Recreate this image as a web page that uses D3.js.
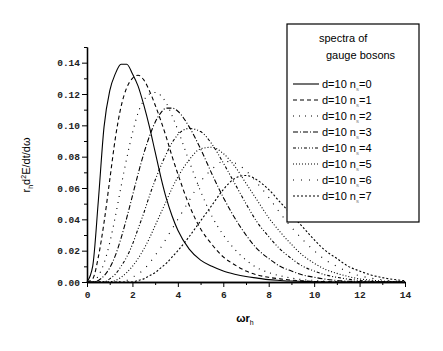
<!DOCTYPE html>
<html><head><meta charset="utf-8">
<script src="https://cdn.jsdelivr.net/npm/d3@7"></script>
<style>body{margin:0;background:#fff}</style>
</head><body>
<svg id="c" width="443" height="351"></svg>
<script>
const xs = [0,0.25,0.5,0.75,1,1.25,1.5,1.75,2,2.25,2.5,2.75,3,3.25,3.5,3.75,4,4.5,5,5.5,6,6.5,7,7.5,8,8.5,9,9.5,10,10.5,11,11.5,12,12.5,13,13.5,14];
const ns0 = [0,0.010,0.052,0.099,0.122,0.133,0.139,0.139,0.133,0.125,0.113,0.099,0.083,0.067,0.053,0.042,0.033,0.021,0.014,0.010,0.007,0.005,0.0035,0.0025,0.0015,0.001,0.0006,0.0004,0.0002,0,0,0,0,0,0,0,0];
const ns1 = [0,0.002,0.016,0.038,0.065,0.092,0.112,0.124,0.130,0.132,0.129,0.122,0.113,0.103,0.092,0.080,0.069,0.049,0.034,0.024,0.016,0.011,0.007,0.0045,0.003,0.002,0.0012,0.0007,0.0004,0.0002,0,0,0,0,0,0,0];
const ns2 = [0,0,0.004,0.012,0.025,0.042,0.061,0.079,0.095,0.108,0.116,0.120,0.121,0.119,0.114,0.106,0.097,0.077,0.058,0.042,0.030,0.021,0.014,0.009,0.006,0.004,0.0025,0.0015,0.001,0.0005,0.0002,0,0,0,0,0,0];
const ns3 = [0,0,0.001,0.004,0.009,0.017,0.028,0.041,0.055,0.069,0.082,0.093,0.102,0.108,0.111,0.111,0.109,0.099,0.085,0.069,0.054,0.041,0.030,0.021,0.015,0.010,0.007,0.0045,0.003,0.0018,0.001,0.0005,0.0002,0,0,0,0];
const ns4 = [0,0,0,0,0.002,0.005,0.010,0.016,0.024,0.034,0.044,0.055,0.065,0.074,0.082,0.089,0.094,0.098,0.096,0.088,0.076,0.063,0.050,0.038,0.029,0.021,0.015,0.010,0.007,0.0045,0.003,0.0018,0.001,0.0005,0.0002,0,0];
const ns5 = [0,0,0,0,0,0.001,0.003,0.006,0.010,0.015,0.021,0.028,0.036,0.044,0.052,0.060,0.067,0.078,0.085,0.086,0.082,0.074,0.063,0.052,0.041,0.032,0.024,0.017,0.012,0.008,0.0055,0.0035,0.002,0.0012,0.0006,0.0002,0];
const ns6 = [0,0,0,0,0,0,0,0.001,0.003,0.005,0.008,0.012,0.017,0.022,0.028,0.034,0.040,0.052,0.064,0.072,0.077,0.076,0.071,0.063,0.054,0.044,0.035,0.027,0.020,0.014,0.010,0.0065,0.004,0.0025,0.0014,0.0007,0.0003];
const ns7 = [0,0,0,0,0,0,0,0,0,0.001,0.002,0.004,0.006,0.009,0.012,0.016,0.020,0.029,0.039,0.049,0.059,0.066,0.068,0.065,0.059,0.051,0.043,0.035,0.027,0.020,0.015,0.010,0.007,0.0045,0.0028,0.0016,0.0008];
const seriesValues = [ns0, ns1, ns2, ns3, ns4, ns5, ns6, ns7];
const seriesNames = ["0","1","2","3","4","5","6","7"];
const dashes = [null, "4,3", "1,5", "5,2,1,2", "3,2,1,2,1,2", "1,2", "1,7", "2,2"];
const xTicks = [0,2,4,6,8,10,12,14];
const yTicks = [0,0.02,0.04,0.06,0.08,0.10,0.12,0.14];

const svg = d3.select("#c");
const x = d3.scaleLinear().domain([0,14]).range([87,405]);
const y = d3.scaleLinear().domain([0,0.15]).range([282,47]);

const line = d3.line().x((d,i)=>x(xs[i])).y(d=>y(d)).curve(d3.curveMonotoneX);
seriesValues.forEach((s,k)=>{
  svg.append("path").attr("d", line(s)).attr("fill","none").attr("stroke","#000")
    .attr("stroke-width",1.1).attr("stroke-dasharray", dashes[k]);
});

// axes
const fmt = d3.format(".2f");
const yAx = svg.append("g").attr("transform","translate(87,0)")
  .call(d3.axisLeft(y).tickValues(yTicks).tickFormat(fmt).tickSize(5).tickSizeOuter(0));
svg.append("g").attr("transform","translate(87,0)")
  .call(d3.axisLeft(y).tickValues(d3.range(0.01,0.151,0.02)).tickFormat("").tickSize(3).tickSizeOuter(0));
const xAx = svg.append("g").attr("transform","translate(0,282)")
  .call(d3.axisBottom(x).tickValues(xTicks).tickFormat(d3.format("d")).tickSize(5).tickSizeOuter(0));
svg.append("g").attr("transform","translate(0,282)")
  .call(d3.axisBottom(x).tickValues(d3.range(1,14,2)).tickFormat("").tickSize(3).tickSizeOuter(0));
svg.selectAll(".domain").attr("stroke","#000").attr("stroke-width",1.3);
svg.selectAll(".tick line").attr("stroke","#000");
svg.selectAll(".tick text").attr("font-family","Liberation Mono, monospace").attr("font-size",9.5).attr("font-weight","bold").attr("fill","#222");
yAx.selectAll(".tick text").attr("x",-7);
xAx.selectAll(".tick text").attr("y",9);

// axis labels
const yl = svg.append("text").attr("transform","translate(30,165) rotate(-90)").attr("text-anchor","middle")
  .attr("font-family","Liberation Sans, Arial").attr("font-size",11);
yl.append("tspan").text("r");
yl.append("tspan").attr("font-size",7).attr("dy",3).text("h");
yl.append("tspan").attr("dy",-3).text("d");
yl.append("tspan").attr("font-size",7).attr("dy",-4).text("2");
yl.append("tspan").attr("dy",4).text("E/dt/dω");
const xl = svg.append("text").attr("x",245).attr("y",322).attr("text-anchor","middle")
  .attr("font-family","Liberation Sans, Arial").attr("font-size",11).attr("font-weight","bold");
xl.append("tspan").text("ωr");
xl.append("tspan").attr("font-size",7).attr("font-weight","normal").attr("dy",3).text("h");

// legend
const lg = svg.append("g");
lg.append("rect").attr("x",287).attr("y",24).attr("width",132).attr("height",198).attr("fill","#fff").attr("stroke","#000").attr("stroke-width",1.2);
lg.append("text").attr("x",319).attr("y",42).attr("font-family","Liberation Sans, Arial").attr("font-size",11).text("spectra of");
lg.append("text").attr("x",326).attr("y",59).attr("font-family","Liberation Sans, Arial").attr("font-size",11).text("gauge bosons");
seriesNames.forEach((n,k)=>{
  const yy = 84 + k*16;
  lg.append("line").attr("x1",293).attr("x2",319).attr("y1",yy).attr("y2",yy).attr("stroke","#000").attr("stroke-width",1.1).attr("stroke-dasharray",dashes[k]);
  const t = lg.append("text").attr("x",322).attr("y",yy+4).attr("font-family","Liberation Sans, Arial").attr("font-size",11);
  t.append("tspan").text("d=10 n");
  t.append("tspan").attr("font-size",6).attr("dy",3).attr("fill","#888").text("s");
  t.append("tspan").attr("dy",-3).text("=" + n);
});
</script>
</body></html>
